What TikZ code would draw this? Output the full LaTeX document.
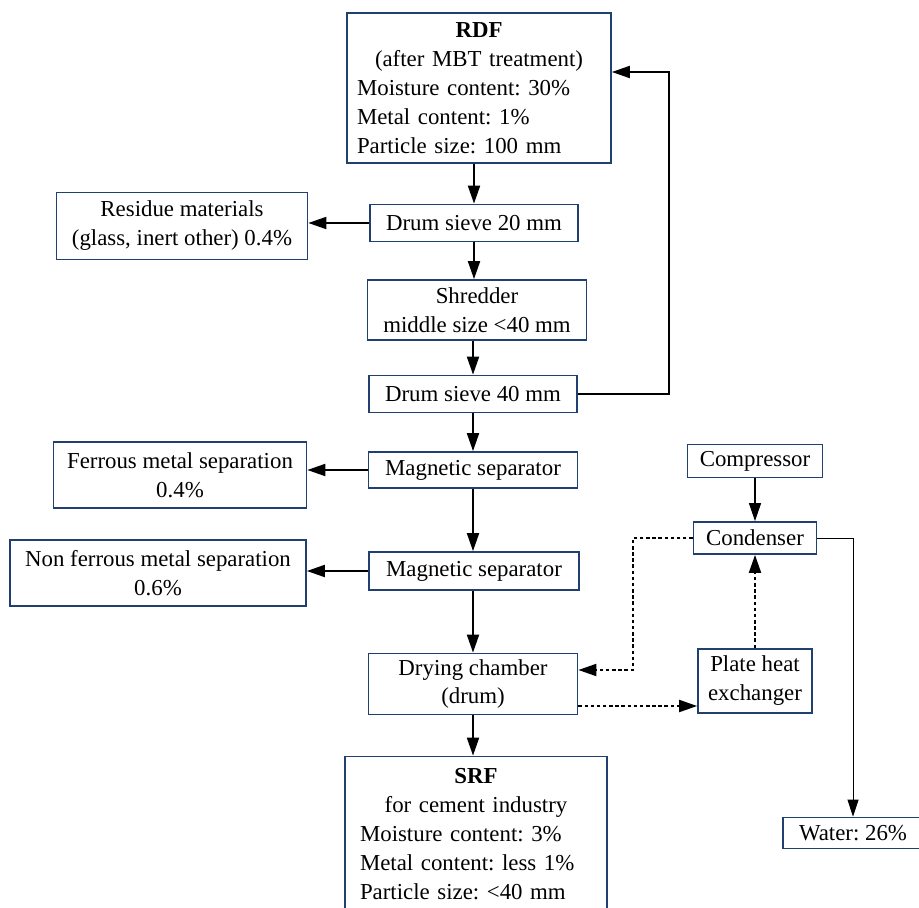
\documentclass[tikz,border=0pt]{standalone}
\usepackage{fontspec}
\setmainfont{Liberation Serif}
\usetikzlibrary{arrows.meta}
\definecolor{boxblue}{RGB}{31,64,112}
\frenchspacing

\begin{document}
\begin{tikzpicture}
    [x=0.02cm, y=-0.02cm,
    box/.style = {draw=boxblue, line width=1pt, fill=white,
                  align=center, inner sep=0pt,
                  font=\fontsize{13}{16.5}\selectfont},
    flow/.style = {-{Triangle[length=0.36cm,width=0.24cm]}, line width=1.1pt},
    heat/.style = {flow, dash pattern=on 2pt off 1.5pt},
    drain/.style = {-{Triangle[length=0.34cm,width=0.22cm]}, line width=0.5pt}]
    \clip (0,0) rectangle (919,908);
    % RDF input
    \node[box, align=left, text width=4.88cm, inner xsep=0.2cm, minimum height=3cm] (rdf) at (479,88)
        {{\centering\textbf{RDF}\\(after MBT treatment)\par}Moisture content: 30\%\\Metal content: 1\%\\Particle size: 100 mm};
    % Main line
    \node[box, minimum width=4.16cm, minimum height=0.74cm] (ds20) at (474,223) {Drum sieve 20 mm};
    \node[box, minimum width=4.38cm, minimum height=1.2cm] (shred) at (477,310) {Shredder\\middle size <40 mm};
    \node[box, minimum width=4.16cm, minimum height=0.74cm] (ds40) at (473,394) {Drum sieve 40 mm};
    \node[box, minimum width=4.18cm, minimum height=0.72cm] (mag1) at (473,470) {Magnetic separator};
    \node[box, minimum width=4.2cm, minimum height=0.76cm] (mag2) at (474,571) {Magnetic separator};
    \node[box, minimum width=4.18cm, minimum height=1.22cm] (dry) at (473,684) {Drying chamber\\(drum)};
    % SRF output
    \node[box, align=left, text width=4.64cm, inner xsep=0.3cm, minimum height=3.1cm] (srf) at (476,834)
        {{\centering\textbf{SRF}\\for cement industry\par}Moisture content: 3\%\\Metal content: less 1\%\\Particle size: <40 mm};
    % Side streams
    \node[box, minimum width=5.02cm, minimum height=1.34cm] (resid) at (182,226) {Residue materials\\(glass, inert other) 0.4\%};
    \node[box, minimum width=5.06cm, minimum height=1.32cm] (ferr) at (180,475) {Ferrous metal separation\\0.4\%};
    \node[box, minimum width=5.92cm, minimum height=1.32cm] (nonf) at (158,573) {Non ferrous metal separation\\0.6\%};
    % Heat recovery
    \node[box, minimum width=2.7cm, minimum height=0.66cm] (comp) at (755,461) {Compressor};
    \node[box, minimum width=2.46cm, minimum height=0.64cm] (cond) at (755,538) {Condenser};
    \node[box, minimum width=2.28cm, minimum height=1.28cm] (plate) at (755,681) {Plate heat\\exchanger};
    \node[box, minimum width=2.8cm, minimum height=0.62cm] (water) at (853,833) {Water: 26\%};
    % Arrows main line
    \draw[flow] (rdf.south -| ds20.north) -- (ds20.north);
    \draw[flow] (ds20.south) -- (ds20.south |- shred.north);
    \draw[flow] (ds40.north |- shred.south) -- (ds40.north);
    \draw[flow] (ds40.south) -- (ds40.south |- mag1.north);
    \draw[flow] (mag1.south) -- (mag1.south |- mag2.north);
    \draw[flow] (dry.north |- mag2.south) -- (dry.north);
    \draw[flow] (dry.south) -- (dry.south |- srf.north);
    % Arrows to side streams
    \draw[flow] (ds20.west) -- (ds20.west -| resid.east);
    \draw[flow] (mag1.west) -- (mag1.west -| ferr.east);
    \draw[flow] (mag2.west) -- (mag2.west -| nonf.east);
    % Oversize back to start
    \coordinate (back) at (669,72);
    \draw[flow] (ds40.east) -| (back) -- (back -| rdf.east);
    % Heat loop
    \coordinate (hot) at (633,670);
    \draw[heat] (cond.west) -| (hot) -- (hot -| dry.east);
    \draw[heat] (dry.east |- 0,706) -- (plate.west |- 0,706);
    \draw[heat] (plate.north) -- (cond.south);
    \draw[flow, line width=0.7pt] (comp.south) -- (cond.north);
    \draw[drain] (cond.east) -| (water.north);
\end{tikzpicture}
\end{document}
